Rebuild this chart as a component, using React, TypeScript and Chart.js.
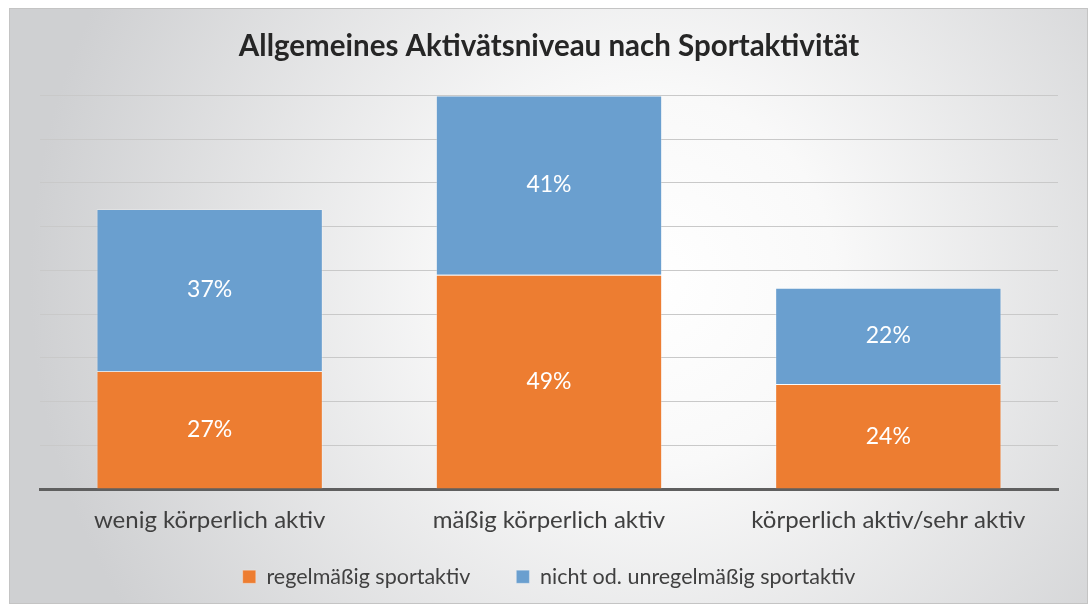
import React, { useEffect, useRef } from 'react';
import { Chart, registerables } from 'chart.js';

Chart.register(...registerables);

const chartTitle = 'Allgemeines Aktivätsniveau nach Sportaktivität';
const categories = ['wenig körperlich aktiv', 'mäßig körperlich aktiv', 'körperlich aktiv/sehr aktiv'];
const seriesNames = ['regelmäßig sportaktiv', 'nicht od. unregelmäßig sportaktiv'];
const regelmaessig = [27, 49, 24];
const nichtRegelmaessig = [37, 41, 22];
const yMin = 0;
const yMax = 90;
const yStep = 10;

const FONT = 'Lato, "Open Sans", sans-serif';

const backgroundPlugin = {
  id: 'bgPlugin',
  beforeDraw(chart: any) {
    const ctx = chart.ctx;
    ctx.save();
    ctx.fillStyle = '#ffffff';
    ctx.fillRect(0, 0, chart.width, chart.height);
    const g = ctx.createRadialGradient(650, 280, 0, 650, 280, 620);
    g.addColorStop(0, '#ffffff');
    g.addColorStop(0.3, '#f9f9f9');
    g.addColorStop(1, '#cfd0d2');
    ctx.fillStyle = g;
    ctx.fillRect(9, 8, 1079, 596);
    ctx.strokeStyle = '#c4c4c4';
    ctx.lineWidth = 1;
    ctx.strokeRect(9.5, 8.5, 1078, 595);
    ctx.restore();
  },
};

// extend the legend box upward so its row sits higher while item spacing stays wide
const legendShiftPlugin = {
  id: 'legendShift',
  afterLayout(chart: any) {
    if (chart.legend) {
      chart.legend.top -= 17;
      chart.legend.height += 17;
    }
  },
};

const valueLabelPlugin = {
  id: 'valueLabels',
  afterDatasetsDraw(chart: any) {
    const ctx = chart.ctx;
    ctx.save();
    ctx.fillStyle = '#ffffff';
    ctx.font = `23px ${FONT}`;
    ctx.textAlign = 'center';
    ctx.textBaseline = 'middle';
    chart.data.datasets.forEach((ds: any, di: number) => {
      const meta = chart.getDatasetMeta(di);
      meta.data.forEach((el: any, i: number) => {
        const v = ds.data[i];
        const y = (el.y + el.base) / 2;
        ctx.fillText(`${v}%`, el.x, y);
      });
    });
    ctx.restore();
  },
};

export default function App() {
  const ref = useRef<HTMLCanvasElement | null>(null);

  useEffect(() => {
    if (!ref.current) return;
    const chart = new Chart(ref.current, {
      type: 'bar',
      data: {
        labels: categories,
        datasets: [
          {
            label: seriesNames[0],
            data: regelmaessig,
            backgroundColor: '#ED7D31',
            borderColor: 'rgba(255,255,255,0.25)',
            borderWidth: 1,
            categoryPercentage: 1,
            barPercentage: 0.667,
          },
          {
            label: seriesNames[1],
            data: nichtRegelmaessig,
            backgroundColor: '#6A9FCF',
            borderColor: 'rgba(255,255,255,0.25)',
            borderWidth: 1,
            categoryPercentage: 1,
            barPercentage: 0.667,
          },
        ],
      },
      options: {
        responsive: false,
        animation: false,
        devicePixelRatio: 1,
        layout: { padding: { left: 40, right: 32, top: 0, bottom: 8 } },
        scales: {
          x: {
            stacked: true,
            grid: { display: false, drawTicks: false },
            border: { display: true, color: '#5f5f5f', width: 3 },
            ticks: { color: '#404040', font: { family: FONT, size: 24 }, padding: 17 },
            afterFit: (scale: any) => {
              scale.height = 48;
            },
          },
          y: {
            stacked: true,
            min: yMin,
            max: yMax,
            ticks: { display: false, stepSize: yStep },
            border: { display: false },
            grid: {
              drawTicks: false,
              color: (c: any) => (c.tick && c.tick.value === 0 ? 'rgba(0,0,0,0)' : '#c9c9c9'),
              lineWidth: 1,
            },
          },
        },
        plugins: {
          title: {
            display: true,
            text: chartTitle,
            color: '#262626',
            font: { family: FONT, size: 29.5, weight: 'bold' },
            padding: { top: 29, bottom: 31 },
          },
          legend: {
            display: true,
            position: 'bottom',
            maxHeight: 60,
            labels: {
              color: '#404040',
              font: { family: FONT, size: 21.5 },
              boxWidth: 13,
              boxHeight: 13,
              padding: 46,
            },
          },
          tooltip: { enabled: false },
        },
      },
      plugins: [backgroundPlugin, legendShiftPlugin, valueLabelPlugin],
    });
    return () => chart.destroy();
  }, []);

  return (
    <div style={{ position: 'fixed', left: 0, top: 0, width: 1090, height: 605 }}>
      <canvas ref={ref} width={1090} height={605} style={{ display: 'block' }} />
    </div>
  );
}
